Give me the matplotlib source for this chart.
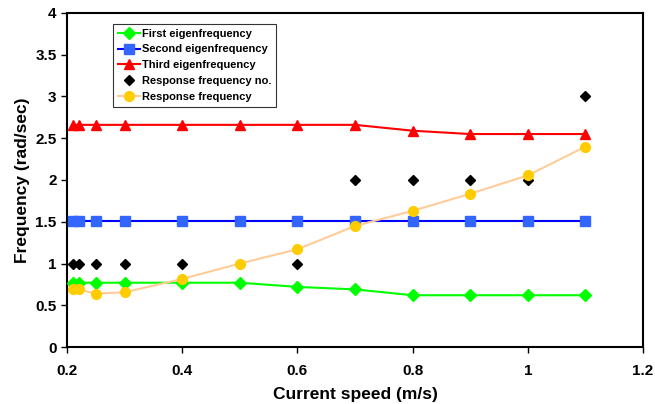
import numpy as np
import matplotlib
matplotlib.use("Agg")
import matplotlib.pyplot as plt
from matplotlib.ticker import FormatStrFormatter, MultipleLocator

plt.rcParams['font.family'] = ['Liberation Sans', 'DejaVu Sans']
plt.rcParams['font.weight'] = 'bold'

# current speed (m/s)
speed = [0.21, 0.22, 0.25, 0.3, 0.4, 0.5, 0.6, 0.7, 0.8, 0.9, 1.0, 1.1]

# eigenfrequencies (rad/sec)
first_eig = [0.77, 0.77, 0.77, 0.77, 0.77, 0.77, 0.72, 0.69, 0.62, 0.62, 0.62, 0.62]
second_eig = [1.51, 1.51, 1.51, 1.51, 1.51, 1.51, 1.51, 1.51, 1.51, 1.51, 1.51, 1.51]
third_eig = [2.66, 2.66, 2.66, 2.66, 2.66, 2.66, 2.66, 2.66, 2.59, 2.55, 2.55, 2.55]

# response
response_no = [1, 1, 1, 1, 1, 1, 1, 2, 2, 2, 2, 3]
response_freq = [0.70, 0.69, 0.64, 0.655, 0.815, 1.0, 1.17, 1.45, 1.63, 1.835, 2.055, 2.40]

fig = plt.figure(figsize=(6.55, 4.04), dpi=100)
ax = fig.add_axes([0.1023, 0.141, 0.8794, 0.827])

ax.plot(speed, first_eig, color='#00FF00', lw=1.5, marker='D', ms=6,
        mfc='#00FF00', mec='#00FF00', label='First eigenfrequency', zorder=3)
ax.plot(speed, second_eig, color='#0000FF', lw=1.5, marker='s', ms=7,
        mfc='#3366FF', mec='#3366FF', label='Second eigenfrequency', zorder=3)
ax.plot(speed, third_eig, color='#FF0000', lw=1.5, marker='^', ms=7.5,
        mfc='#FF0000', mec='#FF0000', label='Third eigenfrequency', zorder=3)
ax.plot(speed, response_no, ls='none', marker='D', ms=5.5,
        mfc='black', mec='black', label='Response frequency no.', zorder=4)
ax.plot(speed, response_freq, color='#FFCC99', lw=1.5, marker='o', ms=7,
        mfc='#FFCC00', mec='#FFCC00', label='Response frequency', zorder=5)

ax.set_xlim(0.2, 1.2)
ax.set_ylim(0, 4)
ax.xaxis.set_major_locator(MultipleLocator(0.2))
ax.yaxis.set_major_locator(MultipleLocator(0.5))
ax.xaxis.set_major_formatter(FormatStrFormatter('%g'))
ax.yaxis.set_major_formatter(FormatStrFormatter('%g'))
ax.tick_params(direction='out', length=4.5, width=1, labelsize=11, colors='black')
ax.tick_params(axis='y', pad=3)
ax.tick_params(axis='x', pad=8)
for lbl in ax.get_xticklabels() + ax.get_yticklabels():
    lbl.set_fontweight('bold')

for s in ax.spines.values():
    s.set_linewidth(1.5)
    s.set_color('black')

ax.set_xlabel('Current speed (m/s)', fontsize=12.5, fontweight='bold', labelpad=6)
ax.set_ylabel('Frequency (rad/sec)', fontsize=12.5, fontweight='bold', labelpad=4)

leg = ax.legend(loc='upper left', bbox_to_anchor=(0.08, 0.968), fontsize=8,
                frameon=True, fancybox=False, edgecolor='black', borderpad=0.45,
                labelspacing=0.52, handlelength=2.0, handletextpad=0.15,
                borderaxespad=0)
leg.get_frame().set_linewidth(0.8)
for t in leg.get_texts():
    t.set_fontweight('bold')

fig.savefig('out.png', dpi=100)
